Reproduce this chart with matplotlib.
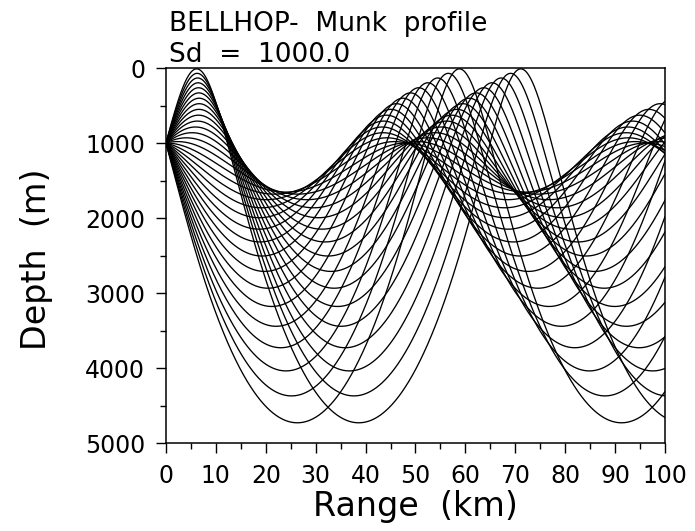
import numpy as np
import matplotlib
matplotlib.use("Agg")
import matplotlib.pyplot as plt
from matplotlib.ticker import MultipleLocator

# Munk sound-speed profile parameters
c0 = 1500.0        # axis sound speed (m/s)
z_axis = 1300.0    # sound channel axis depth (m)
scale_b = 1300.0   # scale depth (m)
eps = 0.00737

source_depth = 1000.0   # m
bottom_depth = 5000.0   # m
max_range = 100.0e3     # m

# ray fan: 31 beams between -14 and +14 degrees (positive = downward)
n_beams = 31
alpha_min, alpha_max = -14.0, 14.0
launch_angles = np.linspace(alpha_min, alpha_max, n_beams)


def munk(z):
    eta = 2.0 * (z - z_axis) / scale_b
    c = c0 * (1.0 + eps * (eta - 1.0 + np.exp(-eta)))
    dcdz = c0 * eps * (1.0 - np.exp(-eta)) * 2.0 / scale_b
    return c, dcdz


def trace_rays(angles_deg, dr=25.0):
    # integrate z(r), zeta(r) with range as the independent variable
    c_s, _ = munk(source_depth)
    th = np.radians(angles_deg)
    xi = np.cos(th) / c_s           # horizontal slowness, constant in r
    zeta = np.sin(th) / c_s
    z = np.full_like(th, source_depth)

    def deriv(z, zeta):
        c, cz = munk(z)
        return zeta / xi, -cz / (c ** 3 * xi)

    n = int(max_range / dr)
    r = np.arange(n + 1) * dr
    zs = np.empty((n + 1, th.size))
    zs[0] = z
    for i in range(n):
        k1z, k1s = deriv(z, zeta)
        k2z, k2s = deriv(z + 0.5 * dr * k1z, zeta + 0.5 * dr * k1s)
        k3z, k3s = deriv(z + 0.5 * dr * k2z, zeta + 0.5 * dr * k2s)
        k4z, k4s = deriv(z + dr * k3z, zeta + dr * k3s)
        z = z + dr / 6.0 * (k1z + 2 * k2z + 2 * k3z + k4z)
        zeta = zeta + dr / 6.0 * (k1s + 2 * k2s + 2 * k3s + k4s)
        # specular reflection at surface and bottom
        top = z < 0.0
        z[top] = -z[top]
        zeta[top] = np.abs(zeta[top])
        bot = z > bottom_depth
        z[bot] = 2 * bottom_depth - z[bot]
        zeta[bot] = -np.abs(zeta[bot])
        zs[i + 1] = z
    return r, zs


r, zs = trace_rays(launch_angles)

plt.rcParams['font.family'] = 'DejaVu Sans'
fig = plt.figure(figsize=(6.95, 5.31), dpi=100)
ax = fig.add_axes([0.2388, 0.1657, 0.718, 0.7062])

for j in range(zs.shape[1]):
    ax.plot(r / 1000.0, zs[:, j], color='black', lw=0.95)

ax.set_xlim(0, 100)
ax.set_ylim(5000, 0)
ax.xaxis.set_major_locator(MultipleLocator(10))
ax.xaxis.set_minor_locator(MultipleLocator(5))
ax.yaxis.set_major_locator(MultipleLocator(1000))
ax.yaxis.set_minor_locator(MultipleLocator(500))
ax.tick_params(which='major', length=7, width=1.0, labelsize=17, pad=8, direction='out')
ax.tick_params(which='minor', length=4, width=1.0, direction='out')
for s in ax.spines.values():
    s.set_linewidth(1.1)

ax.set_xlabel('Range  (km)', fontsize=24)
ax.set_ylabel('Depth  (m)', fontsize=24)
ax.xaxis.set_label_coords(0.5, -0.125)
ax.yaxis.set_label_coords(-0.226, 0.49)

fig.text(169 / 695, 1 - 31 / 531, 'BELLHOP-  Munk  profile', fontsize=19,
         ha='left', va='baseline')
fig.text(169 / 695, 1 - 62 / 531, 'Sd  =  1000.0', fontsize=19,
         ha='left', va='baseline')

fig.savefig('out.png', dpi=100)
